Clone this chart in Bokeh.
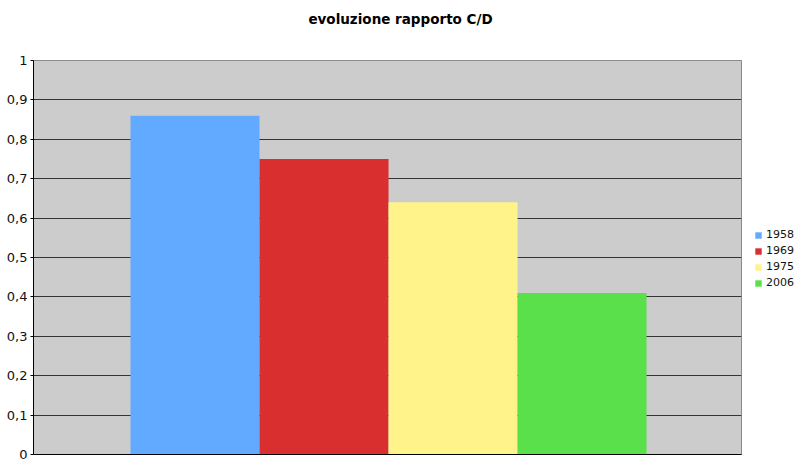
from bokeh.plotting import figure
from bokeh.models import ColumnDataSource, Legend, LegendItem, Range1d, FixedTicker, Label
from bokeh.layouts import row, column
from bokeh.embed import file_html
from bokeh.resources import INLINE

title_text = "evoluzione rapporto C/D"
years = ["1958", "1969", "1975", "2006"]
values = [0.86, 0.75, 0.64, 0.41]
colors = ["#62AAFF", "#DA2F2F", "#FFF38A", "#59E04B"]
tick_values = [0, 0.1, 0.2, 0.3, 0.4, 0.5, 0.6, 0.7, 0.8, 0.9, 1.0]
tick_labels = ["0", "0,1", "0,2", "0,3", "0,4", "0,5", "0,6", "0,7", "0,8", "0,9", "1"]

FONT = "DejaVu Sans"

src = ColumnDataSource(dict(x=list(range(len(years))), top=values, color=colors, year=years))

# title strip
t = figure(width=800, height=36, output_backend="svg", toolbar_location=None,
           x_range=Range1d(0, 1), y_range=Range1d(0, 1),
           min_border_left=0, min_border_right=0, min_border_top=0, min_border_bottom=0)
t.axis.visible = False
t.grid.visible = False
t.outline_line_color = None
t.background_fill_color = "white"
t.border_fill_color = "white"
t.add_layout(Label(x=0.5, y=0.5, text=title_text, text_align="center", text_baseline="middle",
                   text_font=FONT, text_font_size="13.5px", text_font_style="bold", text_color="black"))

# main chart
p = figure(width=742, height=426, output_backend="svg", toolbar_location=None,
           x_range=Range1d(-1.252, 4.236), y_range=Range1d(0, 1),
           min_border_left=33, min_border_right=1, min_border_top=24, min_border_bottom=8)
p.background_fill_color = "#CCCCCC"
p.border_fill_color = "white"
p.outline_line_color = "#8a8a8a"

p.vbar(x="x", top="top", bottom=0, width=1.0, fill_color="color", line_color=None, source=src)

p.yaxis.ticker = FixedTicker(ticks=tick_values)
p.yaxis.major_label_overrides = {v: l for v, l in zip(tick_values, tick_labels)}
p.yaxis.major_label_text_font = FONT
p.yaxis.major_label_text_font_size = "13px"
p.yaxis.major_label_text_color = "#111111"
p.yaxis.axis_line_color = "black"
p.yaxis.major_tick_line_color = "black"
p.yaxis.major_tick_out = 3
p.yaxis.major_tick_in = 0
p.yaxis.minor_tick_line_color = None
p.yaxis.major_label_standoff = 3

p.xaxis.ticker = FixedTicker(ticks=[])
p.xaxis.axis_line_color = "black"
p.xaxis.major_tick_line_color = None
p.xaxis.minor_tick_line_color = None
p.xaxis.major_tick_out = 0
p.xaxis.major_label_standoff = 0
p.xaxis.major_label_text_font_size = "0px"

p.xgrid.grid_line_color = None
p.ygrid.ticker = FixedTicker(ticks=tick_values)
p.ygrid.grid_line_color = "#333333"
p.ygrid.grid_line_width = 1
p.ygrid.level = "underlay"

# legend panel: a small figure whose bars lie far outside its view, holding only the legend
q = figure(width=58, height=426, output_backend="svg", toolbar_location=None,
           x_range=Range1d(100, 101), y_range=Range1d(10, 11),
           min_border_left=0, min_border_right=0, min_border_top=0, min_border_bottom=0)
q.axis.visible = False
q.grid.visible = False
q.outline_line_color = None
q.background_fill_color = "white"
q.border_fill_color = "white"
rq = q.vbar(x="x", top="top", bottom=0, width=1.0, fill_color="color", line_color=None, source=src)

items = [LegendItem(label=years[i], renderers=[rq], index=i) for i in range(len(years))]
legend = Legend(items=items, location=(12, 165), orientation="vertical",
                glyph_width=8, glyph_height=8, label_height=12, spacing=3,
                padding=0, margin=0, label_standoff=4,
                label_text_font=FONT, label_text_font_size="11px", label_text_color="#111111",
                border_line_color=None, background_fill_alpha=0)
q.add_layout(legend, "center")

layout = column(t, row(p, q, spacing=0), spacing=0)
open("out.html", "w").write(file_html(layout, INLINE))
